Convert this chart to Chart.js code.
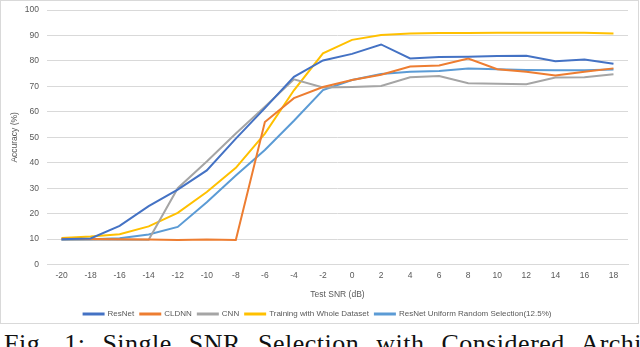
<!DOCTYPE html>
<html>
<head>
<meta charset="utf-8">
<script src="https://cdn.jsdelivr.net/npm/chart.js@4.4.0/dist/chart.umd.min.js"></script>
<style>
  body { margin: 0; background: #fff; width: 640px; height: 347px; overflow: hidden; position: relative; }
  #box { position: absolute; left: 0; top: 0; width: 637px; height: 322px; border: 1px solid #d9d9d9; overflow: hidden; }
  #myChart { position: absolute; left: 0; top: -4px; }
  #caption { position: absolute; left: 4px; top: 329px; font-family: "Liberation Serif", serif; font-size: 26px; color: #111; white-space: nowrap; word-spacing: 10px; letter-spacing: 0.5px; }
</style>
</head>
<body>
<div id="box"><canvas id="myChart" width="637" height="331"></canvas></div>
<div id="caption">Fig. 1: Single SNR Selection with Considered Architectures</div>
<script>
const snrLabels = ['-20','-18','-16','-14','-12','-10','-8','-6','-4','-2','0','2','4','6','8','10','12','14','16','18'];

const resnet  = [10, 10.3, 15.2, 23, 29.5, 37, 49.5, 61.5, 73.8, 80.2, 82.8, 86.5, 81, 81.6, 81.7, 82, 82.1, 79.9, 80.6, 78.9];
const cldnn   = [10.2, 10.1, 10, 9.9, 9.7, 9.9, 9.7, 56, 65.4, 69.8, 72.5, 74.6, 77.8, 78.2, 81, 76.8, 75.8, 74.3, 75.8, 77.1];
const cnn     = [9.8, 9.8, 9.8, 9.8, 30, 40.5, 51.5, 62, 72.8, 69.6, 69.8, 70.2, 73.6, 74.1, 71.3, 71.1, 70.9, 73.5, 73.6, 74.8];
const whole   = [10.5, 11, 11.9, 15, 20.3, 28.5, 38, 51.5, 68.5, 83, 88.3, 90.2, 90.8, 91, 91, 91.1, 91.1, 91.1, 91.1, 90.8];
const uniform = [9.8, 10, 10.4, 11.8, 14.8, 24.5, 35, 45, 56.5, 68.6, 72.5, 74.9, 75.8, 76.1, 77.1, 76.8, 76.5, 76.4, 76.4, 76.7];

const font = "'Liberation Sans Narrow', 'Liberation Sans', sans-serif";
const txt = '#595959';

const mk = (label, data, color) => ({
  label: label,
  data: data,
  borderColor: color,
  backgroundColor: color,
  borderWidth: 2,
  pointRadius: 0,
  tension: 0,
  fill: false
});

const ctx = document.getElementById('myChart');

new Chart(ctx, {
  type: 'line',
  data: {
    labels: snrLabels,
    datasets: [
      mk('ResNet', resnet, '#4472C4'),
      mk('CLDNN', cldnn, '#ED7D31'),
      mk('CNN', cnn, '#A5A5A5'),
      mk('Training with Whole Dataset', whole, '#FFC000'),
      mk('ResNet Uniform Random Selection(12.5%)', uniform, '#5B9BD5')
    ]
  },
  options: {
    responsive: false,
    animation: false,
    layout: { padding: { left: 6, right: 10, top: 0, bottom: 0 } },
    plugins: {
      legend: {
        position: 'bottom',
        labels: {
          boxWidth: 20,
          boxHeight: 1,
          padding: 6,
          color: txt,
          font: { family: font, size: 8 }
        }
      },
      tooltip: { enabled: false }
    },
    scales: {
      x: {
        offset: true,
        grid: { display: false, drawTicks: false },
        border: { color: '#d9d9d9' },
        ticks: { color: txt, font: { family: font, size: 8.5 }, padding: 6, maxRotation: 0, autoSkip: false },
        title: { display: true, text: 'Test SNR (dB)', color: txt, font: { family: font, size: 8.5 }, padding: { top: 3, bottom: 4 } }
      },
      y: {
        min: 0,
        max: 100,
        ticks: { stepSize: 10, color: txt, font: { family: font, size: 8.5 }, padding: 8 },
        grid: { color: '#d9d9d9', drawTicks: false },
        border: { display: false },
        title: { display: true, text: 'Accuracy (%)', color: txt, font: { family: font, size: 8.5 }, padding: 3 },
        afterFit: (scale) => { scale.width = 40; }
      }
    }
  }
});
</script>
</body>
</html>
